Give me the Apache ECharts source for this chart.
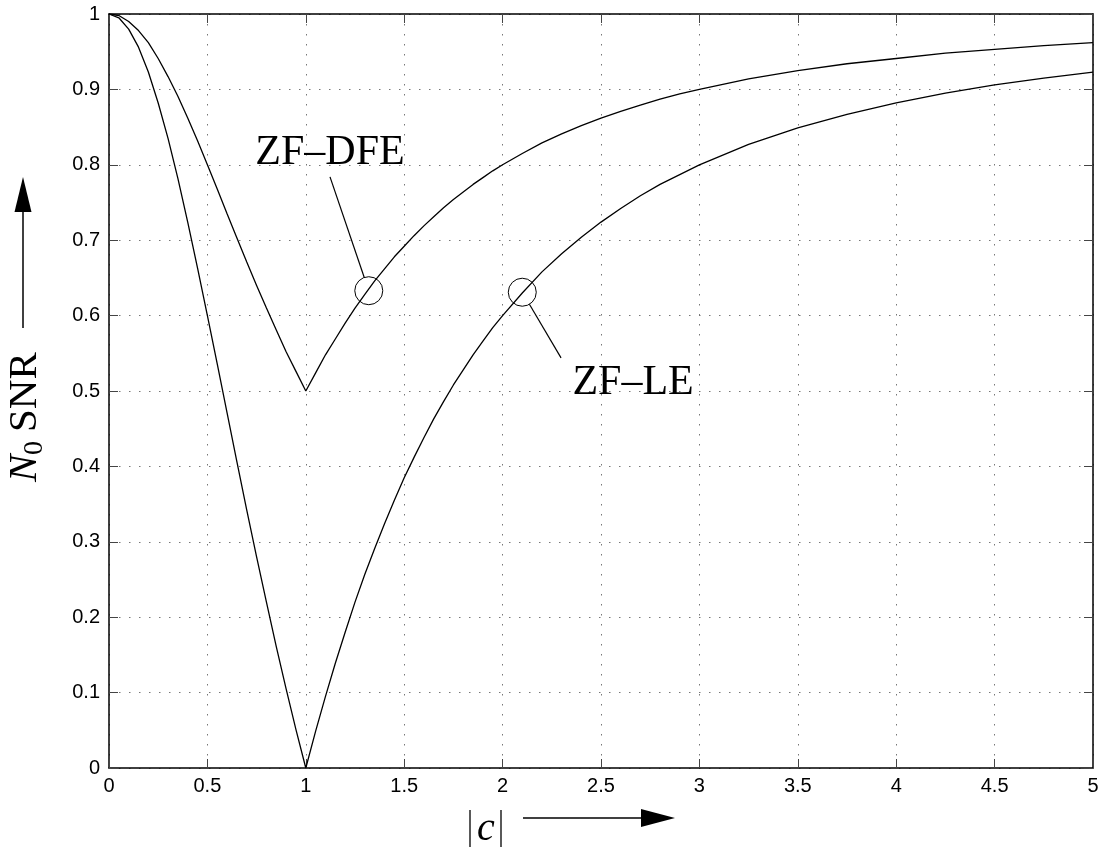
<!DOCTYPE html>
<html>
<head>
<meta charset="utf-8">
<script src="https://cdn.jsdelivr.net/npm/echarts@6/dist/echarts.min.js"></script>
<style>
html, body { margin: 0; padding: 0; background: #fff; }
#chart { width: 1103px; height: 849px; }
</style>
</head>
<body>
<div id="chart"></div>
<script>
// |c| sample points
const cValues = [
  0, 0.05, 0.1, 0.15, 0.2, 0.25, 0.3, 0.35, 0.4, 0.45,
  0.5, 0.55, 0.6, 0.65, 0.7, 0.75, 0.8, 0.85, 0.9, 0.95,
  1.0, 1.05, 1.1, 1.15, 1.2, 1.25, 1.3, 1.35, 1.4, 1.45,
  1.5, 1.55, 1.6, 1.65, 1.7, 1.75, 1.8, 1.85, 1.9, 1.95,
  2.0, 2.1, 2.2, 2.3, 2.4, 2.5, 2.6, 2.7, 2.8, 2.9,
  3.0, 3.25, 3.5, 3.75, 4.0, 4.25, 4.5, 4.75, 5.0
];

// N0 SNR of the zero-forcing linear equalizer
const snrZFLE = [
  1.000, 0.995, 0.980, 0.956, 0.923, 0.882, 0.835, 0.782, 0.724, 0.663,
  0.600, 0.536, 0.471, 0.406, 0.342, 0.280, 0.220, 0.161, 0.105, 0.051,
  0.000, 0.049, 0.095, 0.139, 0.180, 0.220, 0.257, 0.291, 0.324, 0.355,
  0.385, 0.412, 0.438, 0.463, 0.486, 0.508, 0.528, 0.548, 0.566, 0.584,
  0.600, 0.630, 0.658, 0.682, 0.704, 0.724, 0.742, 0.759, 0.774, 0.787,
  0.800, 0.827, 0.849, 0.867, 0.882, 0.895, 0.906, 0.915, 0.923
];

// N0 SNR of the zero-forcing decision-feedback equalizer
const snrZFDFE = [
  1.000, 0.998, 0.990, 0.978, 0.962, 0.941, 0.917, 0.891, 0.862, 0.832,
  0.800, 0.768, 0.735, 0.703, 0.671, 0.640, 0.610, 0.581, 0.552, 0.526,
  0.500, 0.524, 0.548, 0.569, 0.590, 0.610, 0.628, 0.646, 0.662, 0.678,
  0.692, 0.706, 0.719, 0.731, 0.743, 0.754, 0.764, 0.774, 0.783, 0.792,
  0.800, 0.815, 0.829, 0.841, 0.852, 0.862, 0.871, 0.879, 0.887, 0.894,
  0.900, 0.914, 0.925, 0.934, 0.941, 0.948, 0.953, 0.958, 0.962
];

// Axis ranges and tick steps
const xRange = [0, 5];
const xStep = 0.5;
const yRange = [0, 1];
const yStep = 0.1;

// Curve labels: circled point on the curve, end of the leader line, text centre (data units)
const curveLabels = [
  { text: 'ZF\u2013DFE', circle: [1.32, 0.633], leaderEnd: [1.123, 0.784], textAt: [1.123, 0.816] },
  { text: 'ZF\u2013LE',  circle: [2.10, 0.631], leaderEnd: [2.297, 0.544], textAt: [2.663, 0.511] }
];

const toPairs = (xs, ys) => xs.map((x, i) => [x, ys[i]]);

const chart = echarts.init(document.getElementById('chart'), null, { renderer: 'canvas' });

const tickFont = { color: '#000', fontFamily: '"Liberation Sans", Arial, sans-serif', fontSize: 20 };
const gridLine = { show: true, lineStyle: { color: '#777', width: 1, type: [1.5, 8.5] } };
const boxLine = { show: true, onZero: false, lineStyle: { color: '#000', width: 1.5 } };
const innerTick = { show: true, inside: true, length: 9, lineStyle: { color: '#444', width: 1 } };

const option = {
  animation: false,
  backgroundColor: '#fff',
  grid: { left: 109, right: 10, top: 14, bottom: 81, containLabel: false },
  xAxis: [
    {
      type: 'value', min: xRange[0], max: xRange[1], interval: xStep, position: 'bottom',
      axisLine: boxLine, axisTick: innerTick, splitLine: gridLine,
      axisLabel: Object.assign({ margin: 8 }, tickFont)
    },
    {
      type: 'value', min: xRange[0], max: xRange[1], interval: xStep, position: 'top',
      axisLine: boxLine, axisTick: innerTick, splitLine: { show: false }, axisLabel: { show: false }
    }
  ],
  yAxis: [
    {
      type: 'value', min: yRange[0], max: yRange[1], interval: yStep, position: 'left',
      axisLine: boxLine, axisTick: innerTick, splitLine: gridLine,
      axisLabel: Object.assign({ margin: 9 }, tickFont)
    },
    {
      type: 'value', min: yRange[0], max: yRange[1], interval: yStep, position: 'right',
      axisLine: boxLine, axisTick: innerTick, splitLine: { show: false }, axisLabel: { show: false }
    }
  ],
  series: [
    {
      name: 'ZF-DFE', type: 'line', xAxisIndex: 0, yAxisIndex: 0,
      data: toPairs(cValues, snrZFDFE), showSymbol: false, smooth: false,
      lineStyle: { color: '#000', width: 1.3 }
    },
    {
      name: 'ZF-LE', type: 'line', xAxisIndex: 0, yAxisIndex: 0,
      data: toPairs(cValues, snrZFLE), showSymbol: false, smooth: false,
      lineStyle: { color: '#000', width: 1.3 }
    }
  ]
};

chart.setOption(option);

// Curve labels with circles and leader lines, placed through the axes' scales
const px = (p) => chart.convertToPixel({ xAxisIndex: 0, yAxisIndex: 0 }, p);
const circleR = 14;
const graphics = [];
curveLabels.forEach((lab) => {
  const c = px(lab.circle);
  const e = px(lab.leaderEnd);
  const t = px(lab.textAt);
  const dx = e[0] - c[0], dy = e[1] - c[1];
  const d = Math.hypot(dx, dy);
  graphics.push({
    type: 'circle', shape: { cx: c[0], cy: c[1], r: circleR },
    style: { fill: 'none', stroke: '#000', lineWidth: 1 }, z: 10
  });
  graphics.push({
    type: 'line',
    shape: { x1: c[0] + dx / d * circleR, y1: c[1] + dy / d * circleR, x2: e[0], y2: e[1] },
    style: { stroke: '#000', lineWidth: 1.2 }, z: 10
  });
  graphics.push({
    type: 'text', x: t[0], y: t[1], z: 10,
    style: {
      text: lab.text, align: 'center', verticalAlign: 'middle',
      fontFamily: '"Liberation Serif", "Times New Roman", serif', fontSize: 42, fill: '#000'
    }
  });
});

// Y axis title "N0 SNR" read bottom-to-top with an upward arrow
graphics.push({
  type: 'group', x: 25, y: 482, rotation: Math.PI / 2,
  children: [
    { type: 'text', x: 0, y: 0, style: { text: 'N', align: 'left', verticalAlign: 'middle', fontFamily: '"Liberation Serif", serif', fontStyle: 'italic', fontSize: 41, fill: '#000' } },
    { type: 'text', x: 27, y: 10, style: { text: '0', align: 'left', verticalAlign: 'middle', fontFamily: '"Liberation Serif", serif', fontSize: 28, fill: '#000' } },
    { type: 'text', x: 50, y: 0, style: { text: 'SNR', align: 'left', verticalAlign: 'middle', fontFamily: '"Liberation Serif", serif', fontSize: 41, fill: '#000' } }
  ]
});
graphics.push({ type: 'line', shape: { x1: 23, y1: 328, x2: 23, y2: 210 }, style: { stroke: '#000', lineWidth: 1.5 } });
graphics.push({ type: 'polygon', shape: { points: [[23, 177], [14.5, 212], [31.5, 212]] }, style: { fill: '#000' } });

// X axis title "|c|" with a rightward arrow
graphics.push({ type: 'line', shape: { x1: 470, y1: 810, x2: 470, y2: 847 }, style: { stroke: '#000', lineWidth: 1.3 } });
graphics.push({ type: 'line', shape: { x1: 501, y1: 810, x2: 501, y2: 847 }, style: { stroke: '#000', lineWidth: 1.3 } });
graphics.push({
  type: 'text', x: 486, y: 829,
  style: { text: 'c', align: 'center', verticalAlign: 'middle', fontFamily: '"Liberation Serif", serif', fontStyle: 'italic', fontSize: 40, fill: '#000' }
});
graphics.push({ type: 'line', shape: { x1: 523, y1: 818, x2: 643, y2: 818 }, style: { stroke: '#000', lineWidth: 1.5 } });
graphics.push({ type: 'polygon', shape: { points: [[675, 818], [641, 809], [641, 827]] }, style: { fill: '#000' } });

chart.setOption({ graphic: graphics });
</script>
</body>
</html>
